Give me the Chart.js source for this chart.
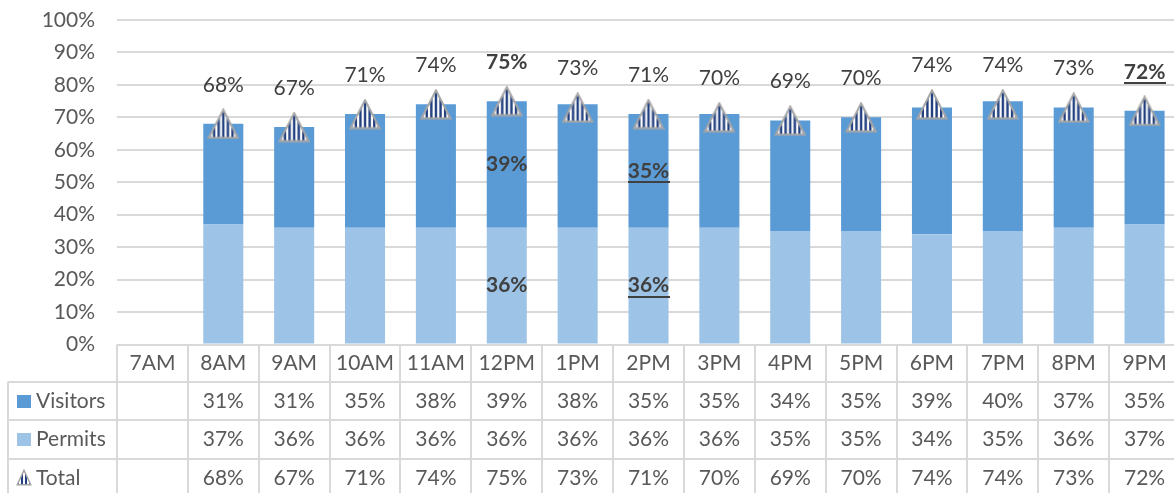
<!DOCTYPE html>
<html>
<head>
<meta charset="utf-8">
<script src="https://cdn.jsdelivr.net/npm/chart.js@4/dist/chart.umd.min.js"></script>
<style>
  html, body { margin: 0; padding: 0; background: #fff; width: 1174px; height: 493px; overflow: hidden; }
  #wrap { width: 1180px; height: 493px; }
</style>
</head>
<body>
<div id="wrap"><canvas id="chart" width="1180" height="493"></canvas></div>
<script>
// Hourly occupancy shares (percent of capacity)
const hours    = ['7AM', '8AM', '9AM', '10AM', '11AM', '12PM', '1PM', '2PM', '3PM', '4PM', '5PM', '6PM', '7PM', '8PM', '9PM'];
const visitors = [null, 31, 31, 35, 38, 39, 38, 35, 35, 34, 35, 39, 40, 37, 35];
const permits  = [null, 37, 36, 36, 36, 36, 36, 36, 36, 35, 35, 34, 35, 36, 37];
const totals   = [null, 68, 67, 71, 74, 75, 73, 71, 70, 69, 70, 74, 74, 73, 72];

// Labels called out in bold (some also underlined)
const callouts = [
  { series: 'Total',    hour: '12PM', underline: false },
  { series: 'Visitors', hour: '12PM', underline: false },
  { series: 'Permits',  hour: '12PM', underline: false },
  { series: 'Visitors', hour: '2PM',  underline: true },
  { series: 'Permits',  hour: '2PM',  underline: true },
  { series: 'Total',    hour: '9PM',  underline: true }
];

const FONT = 'Lato';
const FONT_SIZE = 21;
const TEXT_GREY = '#595959';
const LABEL_GREY = '#404040';
const LINE_GREY = '#d9d9d9';
const VISITOR_BLUE = '#5b9bd5';
const PERMIT_BLUE = '#9dc3e6';
const STRIPE_NAVY = '#22407f';

// Striped triangle marker drawn onto an offscreen canvas
function stripedTriangle(w, h, period, stripeW, border) {
  const cv = document.createElement('canvas');
  cv.width = w; cv.height = h;
  const g = cv.getContext('2d');
  const pad = border / 2 + 0.5;
  g.beginPath();
  g.moveTo(w / 2, pad);
  g.lineTo(w - pad, h - pad);
  g.lineTo(pad, h - pad);
  g.closePath();
  g.save();
  g.clip();
  g.fillStyle = '#ffffff';
  g.fillRect(0, 0, w, h);
  g.fillStyle = STRIPE_NAVY;
  for (let x = 1; x < w; x += period) g.fillRect(x, 0, stripeW, h);
  g.restore();
  g.lineWidth = border;
  g.lineJoin = 'miter';
  g.strokeStyle = '#a6a6a6';
  g.stroke();
  return cv;
}
const marker = stripedTriangle(32, 31, 4.6, 2.4, 2);
const keyMarker = stripedTriangle(16, 17, 4, 2, 1.5);

function isCallout(series, hour) {
  return callouts.find(c => c.series === series && c.hour === hour);
}

function drawLabel(ctx, text, x, y, callout) {
  ctx.font = (callout ? 'bold ' : '') + FONT_SIZE + 'px ' + FONT;
  ctx.fillStyle = LABEL_GREY;
  ctx.textAlign = 'center';
  ctx.textBaseline = 'middle';
  ctx.fillText(text, x, y);
  if (callout && callout.underline) {
    const w = ctx.measureText(text).width;
    ctx.fillRect(Math.round(x - w / 2), Math.round(y + 10), Math.round(w), 2);
  }
}

// Value labels: totals above the markers, called-out segment values inside bars
const valueLabels = {
  id: 'valueLabels',
  afterDatasetsDraw(chart) {
    const { ctx, scales: { x, y } } = chart;
    ctx.save();
    totals.forEach((v, i) => {
      if (v == null) return;
      drawLabel(ctx, v + '%', x.getPixelForValue(i), y.getPixelForValue(v) - 39, isCallout('Total', hours[i]));
    });
    chart.data.datasets.forEach((ds, di) => {
      if (ds.type === 'line') return;
      const meta = chart.getDatasetMeta(di);
      ds.data.forEach((v, i) => {
        const c = isCallout(ds.label, hours[i]);
        if (!c || v == null) return;
        const el = meta.data[i];
        const { x: bx, y: by, base } = el.getProps(['x', 'y', 'base'], true);
        drawLabel(ctx, v + '%', bx, (by + base) / 2, c);
      });
    });
    ctx.restore();
  }
};

// Data table under the plot: header row of hours plus one row per series
const dataTable = {
  id: 'dataTable',
  afterDraw(chart) {
    const { ctx, chartArea: area, scales: { x } } = chart;
    const top = area.bottom;
    const rowH = [37, 38.5, 38.5, 38.5];
    const rowTop = [top];
    for (let r = 0; r < rowH.length; r++) rowTop.push(rowTop[r] + rowH[r]);
    const colW = (area.right - area.left) / hours.length;
    const tableLeft = 8;
    ctx.save();
    ctx.strokeStyle = LINE_GREY;
    ctx.lineWidth = 2;
    ctx.beginPath();
    // vertical column rules
    for (let i = 0; i <= hours.length; i++) {
      const cx = Math.round(area.left + i * colW);
      ctx.moveTo(cx, top);
      ctx.lineTo(cx, chart.height);
    }
    // left border of the legend column
    ctx.moveTo(tableLeft, rowTop[1]);
    ctx.lineTo(tableLeft, chart.height);
    // horizontal row rules
    for (let r = 1; r < rowTop.length - 1; r++) {
      const ry = Math.round(rowTop[r]);
      ctx.moveTo(tableLeft, ry);
      ctx.lineTo(area.right, ry);
    }
    ctx.stroke();

    ctx.fillStyle = TEXT_GREY;
    ctx.font = FONT_SIZE + 'px ' + FONT;
    ctx.textAlign = 'center';
    ctx.textBaseline = 'middle';
    const mid = r => (rowTop[r] + rowTop[r + 1]) / 2;
    hours.forEach((h, i) => {
      const cx = x.getPixelForValue(i);
      ctx.fillText(h, cx, mid(0));
      if (visitors[i] != null) ctx.fillText(visitors[i] + '%', cx, mid(1));
      if (permits[i] != null) ctx.fillText(permits[i] + '%', cx, mid(2));
      if (totals[i] != null) ctx.fillText(totals[i] + '%', cx, mid(3));
    });

    // row legend keys
    ctx.textAlign = 'left';
    ctx.fillStyle = VISITOR_BLUE;
    ctx.fillRect(17, Math.round(mid(1) - 6), 14, 13);
    ctx.fillStyle = PERMIT_BLUE;
    ctx.fillRect(17, Math.round(mid(2) - 6), 14, 13);
    ctx.drawImage(keyMarker, 16, Math.round(mid(3) - 9));
    ctx.fillStyle = TEXT_GREY;
    ctx.fillText('Visitors', 36, mid(1));
    ctx.fillText('Permits', 36, mid(2));
    ctx.fillText('Total', 36, mid(3));
    ctx.restore();
  }
};

Chart.defaults.font.family = FONT;
Chart.defaults.font.size = FONT_SIZE;
Chart.defaults.color = TEXT_GREY;

new Chart(document.getElementById('chart'), {
  data: {
    labels: hours,
    datasets: [
      {
        type: 'line', label: 'Total', data: totals, stack: 'total', order: 0,
        showLine: false, pointStyle: marker, pointRadius: 15, pointHoverRadius: 15
      },
      {
        type: 'bar', label: 'Permits', data: permits, stack: 'share', order: 1,
        backgroundColor: PERMIT_BLUE, barPercentage: 0.565, categoryPercentage: 1
      },
      {
        type: 'bar', label: 'Visitors', data: visitors, stack: 'share', order: 2,
        backgroundColor: VISITOR_BLUE, barPercentage: 0.565, categoryPercentage: 1
      }
    ]
  },
  options: {
    responsive: false,
    animation: false,
    events: [],
    layout: { autoPadding: false, padding: { top: 20, right: 0, bottom: 0, left: 0 } },
    plugins: { legend: { display: false }, tooltip: { enabled: false } },
    scales: {
      x: {
        stacked: true,
        grid: { display: false },
        border: { display: false },
        ticks: { display: false },
        afterFit(scale) { scale.height = 148.5; scale.paddingLeft = 0; scale.paddingRight = 0; }
      },
      y: {
        stacked: true,
        min: 0, max: 100,
        ticks: { stepSize: 10, padding: 22, callback: v => v + '%', color: TEXT_GREY },
        grid: { color: LINE_GREY, lineWidth: 2, drawTicks: false },
        border: { display: false },
        afterFit(scale) { scale.width = 117; scale.paddingTop = 0; scale.paddingBottom = 0; }
      }
    }
  },
  plugins: [valueLabels, dataTable]
});
</script>
</body>
</html>
